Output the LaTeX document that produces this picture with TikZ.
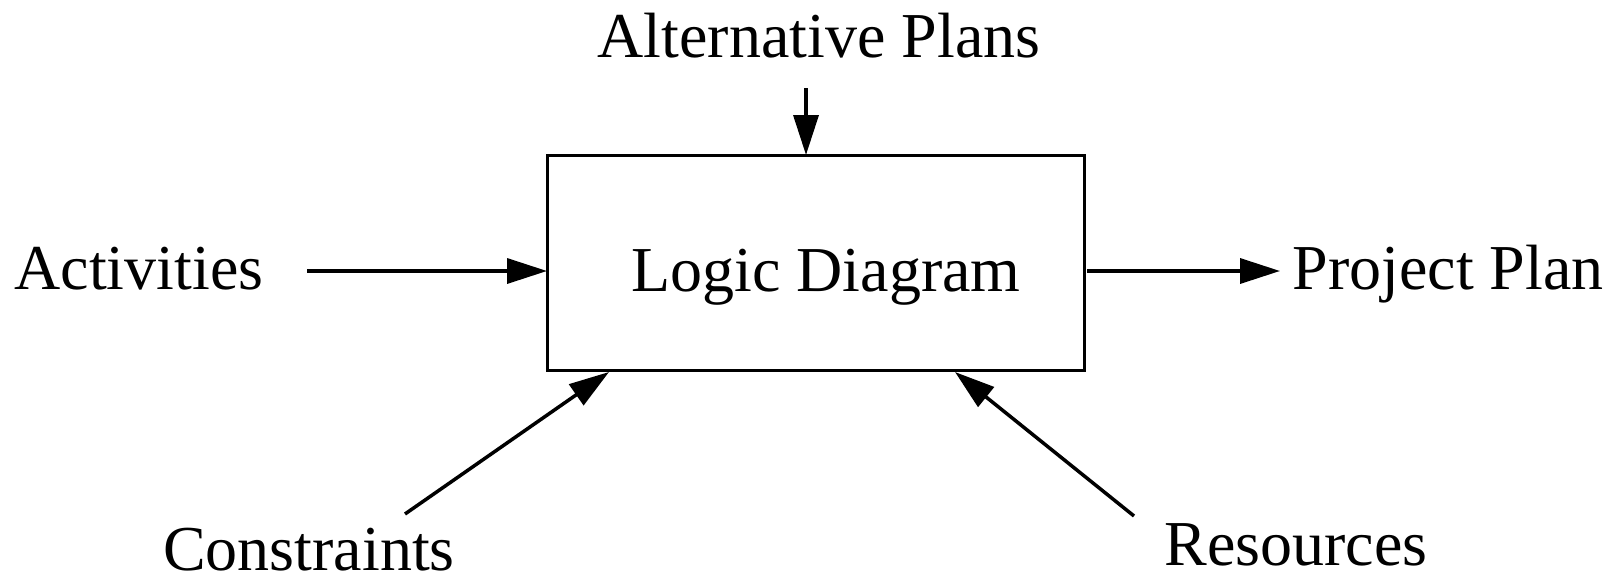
\documentclass[tikz,border=0pt]{standalone}
\usepackage{fontspec}
\setmainfont{Liberation Serif}
\usetikzlibrary{arrows.meta}
\begin{document}
\begin{tikzpicture}[x=1pt,y=-1pt,
  lbl/.style={inner sep=0pt,anchor=base,font=\fontsize{64}{70}\selectfont},
  conn/.style={line width=3.5pt,-{Triangle[length=40pt,width=25pt]}},
  boxst/.style={draw,line width=3pt,minimum width=537pt,minimum height=215pt,inner sep=0pt}]
\useasboundingbox (0,0) rectangle (1619,586);
\node[boxst] (box) at (815.5,262.5) {};
\node[lbl] (ld) at (826,291) {Logic Diagram};
\node[lbl] (alt) at (819,57) {Alternative Plans};
\node[lbl] (act) at (139,289) {Activities};
\node[lbl] (pp) at (1448,289) {Project Plan};
\node[lbl] (con) at (309,570) {Constraints};
\node[lbl] (res) at (1296,565) {Resources};
\coordinate (altS) at (806,88);
\coordinate (altE) at (806,155);
\coordinate (actS) at (307,271);
\coordinate (actE) at (547,271);
\coordinate (ppS) at (1087,271);
\coordinate (ppE) at (1280,271);
\coordinate (conS) at (405,514);
\coordinate (conE) at (609,372);
\coordinate (resS) at (1134,516);
\coordinate (resE) at (955,372);
\draw[conn] (altS) -- (altE);
\draw[conn] (actS) -- (actE);
\draw[conn] (ppS) -- (ppE);
\draw[conn] (conS) -- (conE);
\draw[conn] (resS) -- (resE);
\end{tikzpicture}
\end{document}
